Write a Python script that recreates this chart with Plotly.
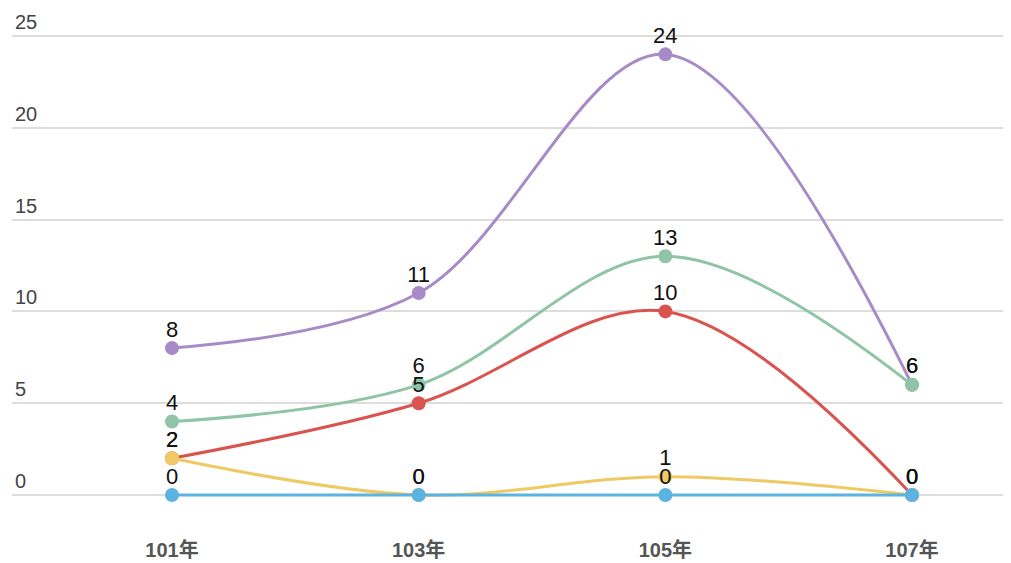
import plotly.graph_objects as go

categories = ["101年", "103年", "105年", "107年"]
series_names = ["紫", "綠", "紅", "黃", "藍"]
purple_vals = [8, 11, 24, 6]
green_vals = [4, 6, 13, 6]
red_vals = [2, 5, 10, 0]
yellow_vals = [2, 0, 1, 0]
blue_vals = [0, 0, 0, 0]
y_ticks = [0, 5, 10, 15, 20, 25]

colors = ["#a78bc8", "#8fc4a6", "#d9534f", "#efc963", "#5bb3e1"]
all_vals = [purple_vals, green_vals, red_vals, yellow_vals, blue_vals]

FONT = "Liberation Sans, Arial, Noto Sans CJK TC, sans-serif"

fig = go.Figure()
for name, vals, col in zip(series_names, all_vals, colors):
    fig.add_trace(go.Scatter(
        x=categories, y=vals, name=name,
        mode="lines+markers",
        line=dict(color=col, width=3, shape="spline", smoothing=1),
        marker=dict(color=col, size=14),
        cliponaxis=False, hoverinfo="skip",
    ))
for name, vals, col in zip(series_names, all_vals, colors):
    fig.add_trace(go.Scatter(
        x=categories, y=vals, name=name + " 標籤",
        mode="markers+text",
        marker=dict(size=8, opacity=0),
        text=[str(v) for v in vals],
        textposition="top center",
        textfont=dict(size=22, color="#111111", family=FONT),
        cliponaxis=False,
    ))

fig.update_layout(
    width=1003, height=555,
    margin=dict(l=4, r=3, t=2, b=45),
    plot_bgcolor="white", paper_bgcolor="white",
    showlegend=False,
    font=dict(family=FONT, color="#555555"),
)
fig.update_xaxes(
    type="category", range=[-0.6486, 3.389],
    showgrid=False, zeroline=False, showline=False,
    ticks="outside", ticklen=14, tickcolor="rgba(0,0,0,0)",
    tickfont=dict(size=20, color="#555555", family=FONT, weight="bold"),
    automargin=False,
)
fig.update_yaxes(
    range=[-1.253, 26.416],
    tickvals=y_ticks, ticktext=[str(v) for v in y_ticks],
    ticklabelposition="inside top",
    tickfont=dict(size=20, color="#444444", family=FONT),
    showgrid=True, gridcolor="#dddddd", gridwidth=1.5,
    zeroline=False, showline=False,
    automargin=False,
)

fig.write_html("out.html")
